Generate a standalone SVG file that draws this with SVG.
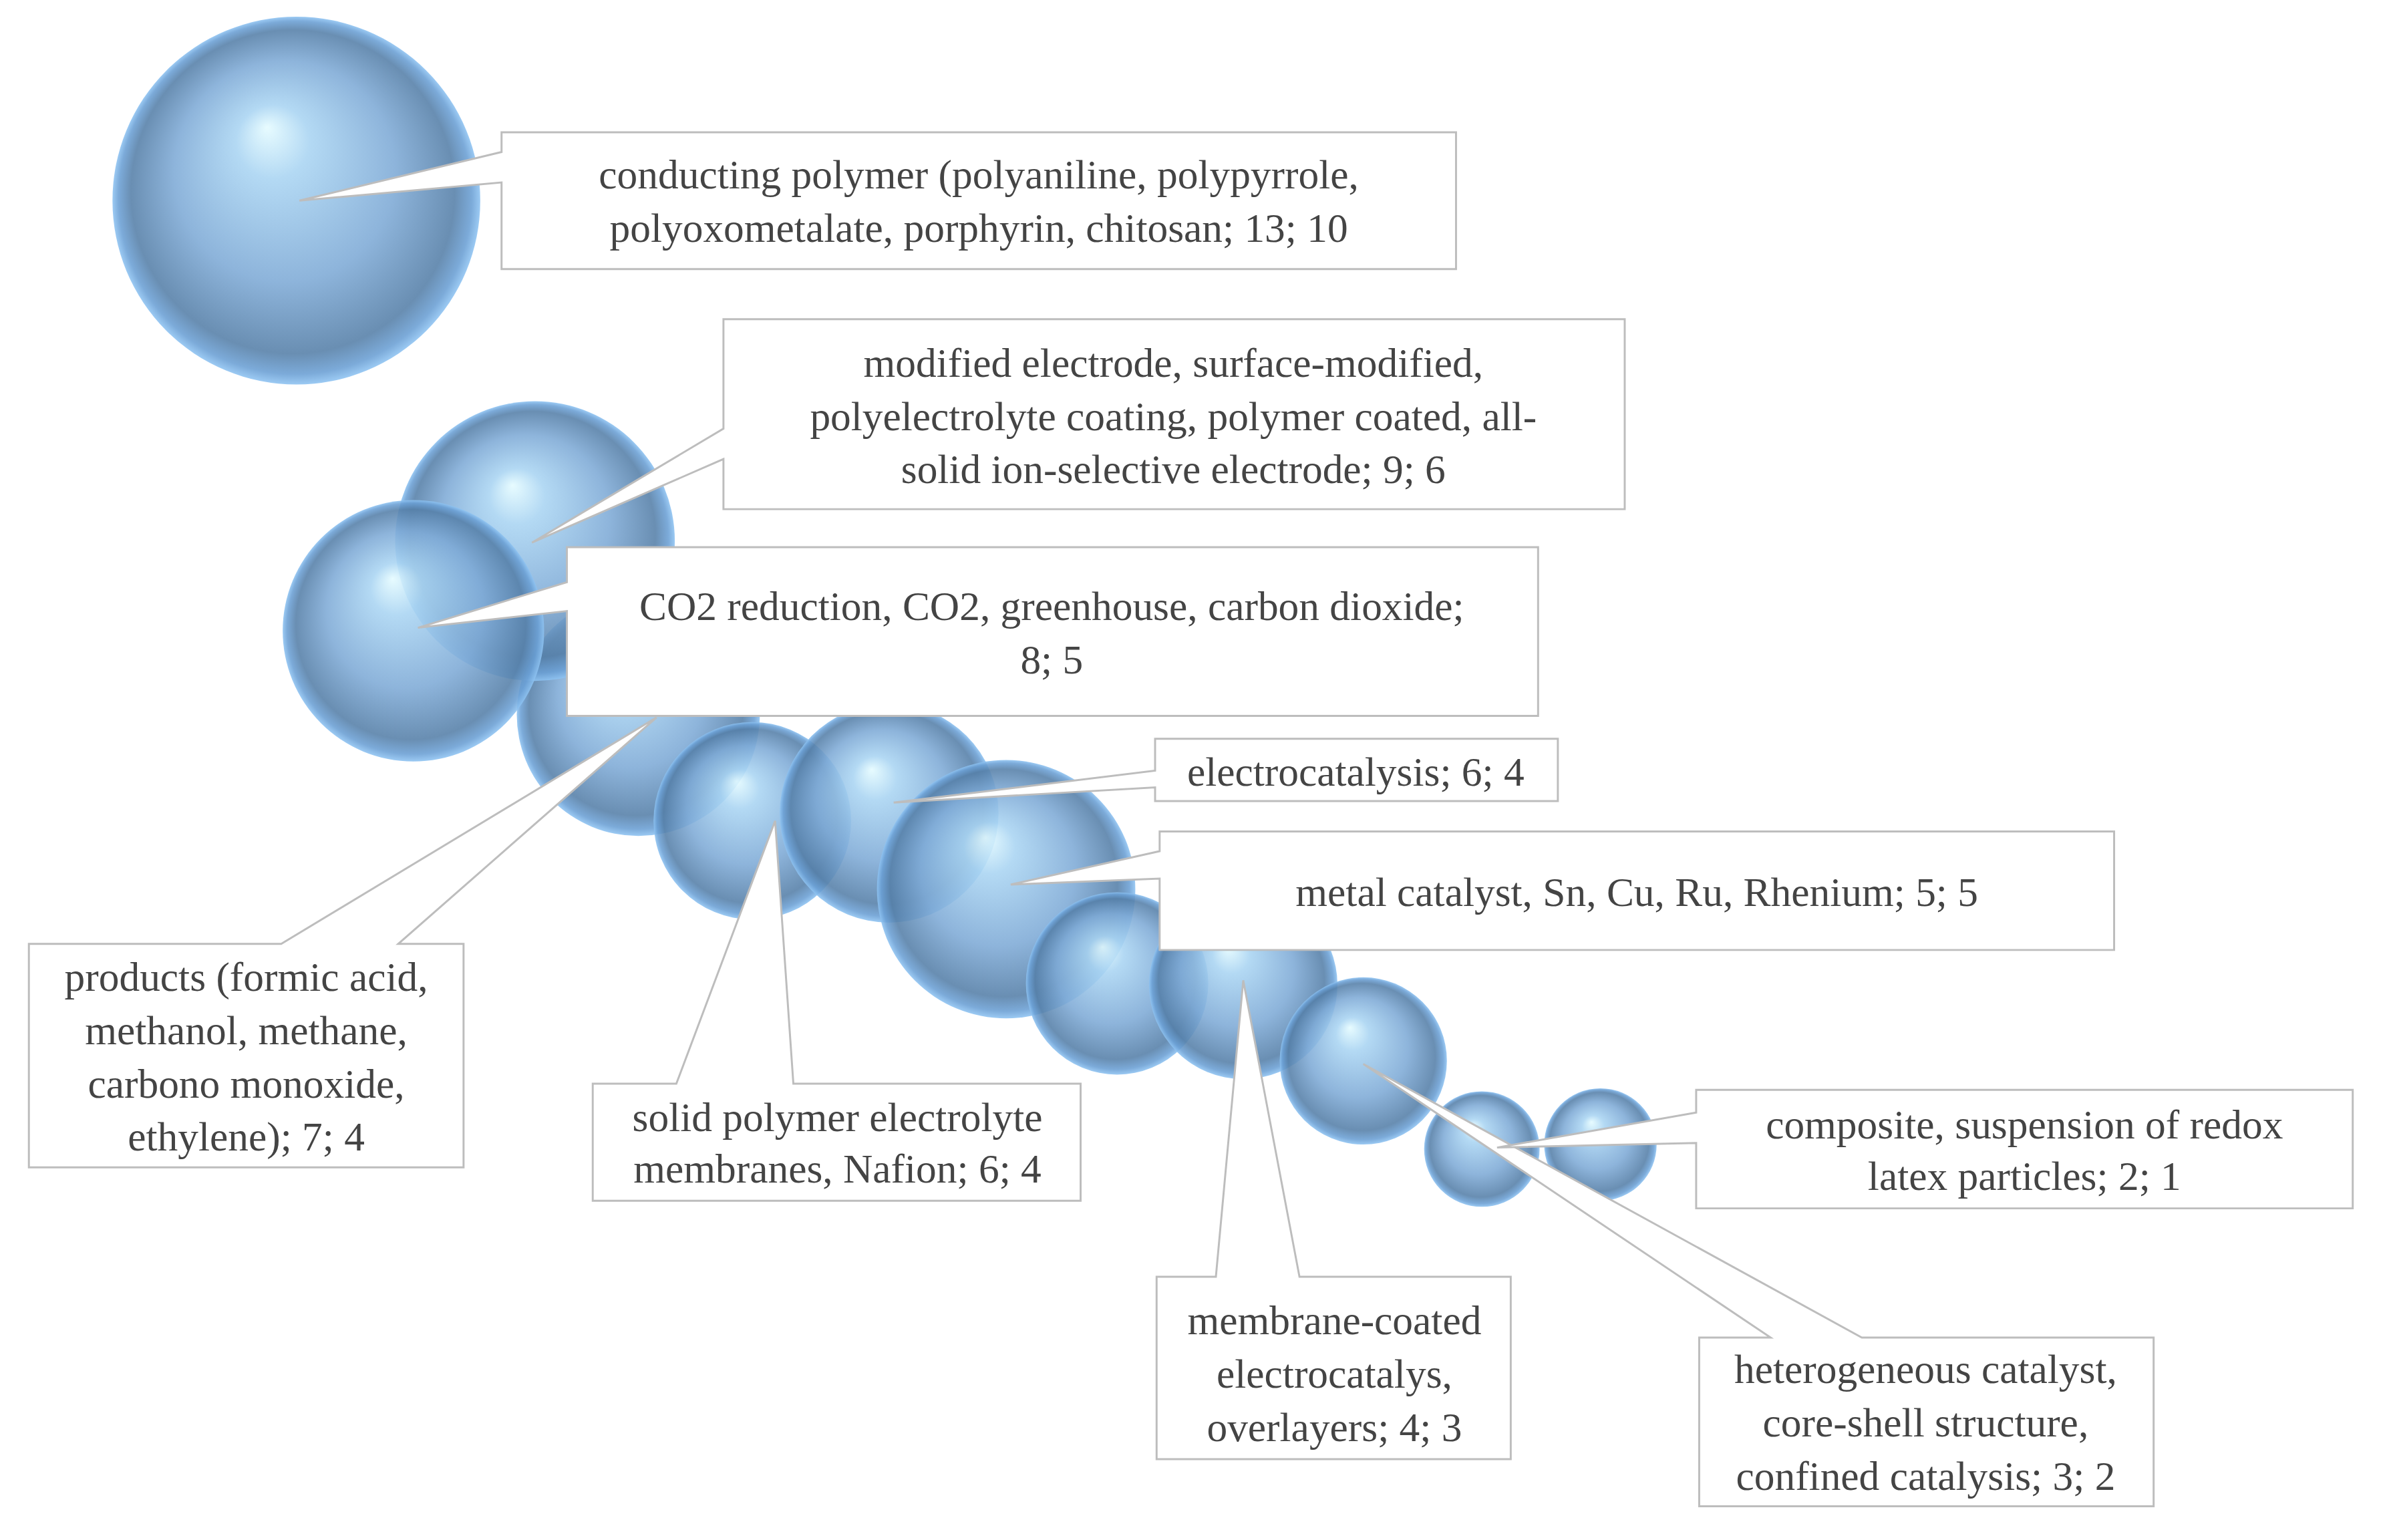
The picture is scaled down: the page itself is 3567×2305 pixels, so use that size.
<svg xmlns="http://www.w3.org/2000/svg" width="3567" height="2305" viewBox="0 0 3567 2305">
<defs>
<radialGradient id="sph" cx="0.5" cy="0.5" r="0.5" fx="0.42" fy="0.3">
<stop offset="0" stop-color="#e4fbff"/>
<stop offset="0.2" stop-color="#a9d4f2"/>
<stop offset="0.6" stop-color="#7eaad6"/>
<stop offset="0.88" stop-color="#557fa8"/>
<stop offset="0.96" stop-color="#6a9fd4"/>
<stop offset="1" stop-color="#8ec3f2"/>
</radialGradient>
<style>
.s{fill:url(#sph);opacity:0.88}
.c{fill:#fff;stroke:#bdbdbd;stroke-width:1.3}
.t{font-family:"Liberation Serif",serif;font-size:27px;fill:#444;text-anchor:middle}
</style>
</defs>
<rect width="3567" height="2305" fill="#fff"/>
<g transform="scale(2.275)">
<g id="spheres">
<circle class="s" cx="195" cy="132" r="121"/>
<circle class="s" cx="420" cy="470" r="80"/>
<circle class="s" cx="352" cy="356" r="92"/>
<circle class="s" cx="272" cy="415" r="86"/>
<circle class="s" cx="495" cy="540" r="65"/>
<circle class="s" cx="585" cy="535" r="72"/>
<circle class="s" cx="662" cy="585" r="85"/>
<circle class="s" cx="735" cy="647" r="60"/>
<circle class="s" cx="818" cy="648" r="62"/>
<circle class="s" cx="897" cy="698" r="55"/>
<circle class="s" cx="1053" cy="753" r="37"/>
<circle class="s" cx="975" cy="756" r="38"/>
</g>
<g id="connectors">
<g id="products"><path class="c" d="M19,621 H185 L432,472 L262,621 H305 V768 H19 Z"/>
<text class="t" x="162" y="652">products (formic acid,</text><text class="t" x="162" y="687">methanol, methane,</text><text class="t" x="162" y="722">carbono monoxide,</text><text class="t" x="162" y="757">ethylene); 7; 4</text></g>
<g id="solid"><path class="c" d="M390,713 H445 L510,540 L522,713 H711 V790 H390 Z"/>
<text class="t" x="551" y="744">solid polymer electrolyte</text><text class="t" x="551" y="778">membranes, Nafion; 6; 4</text></g>
<g id="conducting"><path class="c" d="M330,87 H958 V177 H330 V120 L197,132 L330,100 Z"/>
<text class="t" x="644" y="124">conducting polymer (polyaniline, polypyrrole,</text><text class="t" x="644" y="159">polyoxometalate, porphyrin, chitosan; 13; 10</text></g>
<g id="modified"><path class="c" d="M476,210 H1069 V335 H476 V302 L350,357 L476,282 Z"/>
<text class="t" x="772" y="248">modified electrode, surface-modified,</text><text class="t" x="772" y="283">polyelectrolyte coating, polymer coated, all-</text><text class="t" x="772" y="318">solid ion-selective electrode; 9; 6</text></g>
<g id="co2"><path class="c" d="M373,360 H1012 V471 H373 V402 L275,413 L373,383 Z"/>
<text class="t" x="692" y="408">CO2 reduction, CO2, greenhouse, carbon dioxide;</text><text class="t" x="692" y="443">8; 5</text></g>
<g id="electrocatalysis"><path class="c" d="M760,486 H1025 V527 H760 V518 L588,528 L760,507 Z"/>
<text class="t" x="892" y="517">electrocatalysis; 6; 4</text></g>
<g id="metal"><path class="c" d="M763,547 H1391 V625 H763 V578 L665,582 L763,560 Z"/>
<text class="t" x="1077" y="596">metal catalyst, Sn, Cu, Ru, Rhenium; 5; 5</text></g>
<g id="membrane"><path class="c" d="M761,840 H800 L818,645 L855,840 H994 V960 H761 Z"/>
<text class="t" x="878" y="878">membrane-coated</text><text class="t" x="878" y="913">electrocatalys,</text><text class="t" x="878" y="948">overlayers; 4; 3</text></g>
<g id="heterogeneous"><path class="c" d="M1118,880 H1165 L897,700 L1225,880 H1417 V991 H1118 Z"/>
<text class="t" x="1267" y="910">heterogeneous catalyst,</text><text class="t" x="1267" y="945">core-shell structure,</text><text class="t" x="1267" y="980">confined catalysis; 3; 2</text></g>
<g id="composite"><path class="c" d="M1116,717 H1548 V795 H1116 V752 L985,755 L1116,732 Z"/>
<text class="t" x="1332" y="749">composite, suspension of redox</text><text class="t" x="1332" y="783">latex particles; 2; 1</text></g>
</g>
</g>
</svg>
